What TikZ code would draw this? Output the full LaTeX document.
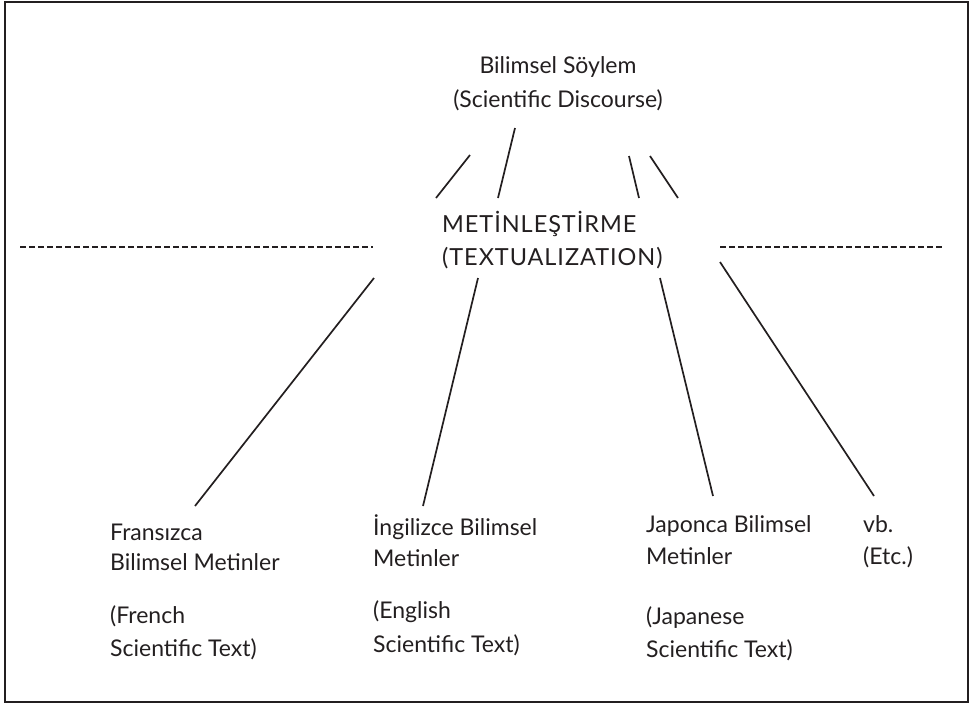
\documentclass[tikz,border=0pt]{standalone}
\usepackage{fontspec}
\setmainfont{Lato}
\definecolor{ink}{HTML}{231F20}
\begin{document}
\begin{tikzpicture}[x=1pt, y=-1pt,
  lbl/.style={anchor=base west, inner sep=0pt, text=ink, font=\fontsize{23}{26}\selectfont},
  clbl/.style={anchor=base, inner sep=0pt, text=ink, font=\fontsize{23}{26}\selectfont},
  caps/.style={lbl, font=\fontsize{23.5}{26}\addfontfeature{LetterSpace=4}},
  link/.style={draw=ink, line width=1.7pt},
  sep/.style={draw=ink, line width=1.3pt, dash pattern=on 6pt off 3pt}]
\useasboundingbox (0,0) rectangle (970,705);
% outer frame
\draw[ink, line width=2.6pt] (5,2) rectangle (968,702);

% discourse at the top
\node[clbl] (disc1) at (558,73) {Bilimsel Söylem};
\node[clbl] (disc2) at (558,107) {(Scientific Discourse)};

% textualization in the middle
\node[caps] (tx1) at (442,232) {METİNLEŞTİRME};
\node[caps] (tx2) at (442,265) {(TEXTUALIZATION)};

% text blocks at the bottom
\node[lbl] (fr1) at (110,540) {Fransızca};
\node[lbl] (fr2) at (110,570) {Bilimsel Metinler};
\node[lbl] (fr3) at (110,623) {(French};
\node[lbl] (fr4) at (110,656) {Scientific Text)};

\node[lbl] (en1) at (373,535) {İngilizce Bilimsel};
\node[lbl] (en2) at (373,566) {Metinler};
\node[lbl] (en3) at (373,618) {(English};
\node[lbl] (en4) at (373,652) {Scientific Text)};

\node[lbl] (jp1) at (646,532) {Japonca Bilimsel};
\node[lbl] (jp2) at (646,564) {Metinler};
\node[lbl] (jp3) at (646,624) {(Japanese};
\node[lbl] (jp4) at (646,657) {Scientific Text)};

\node[lbl] (etc1) at (863,532) {vb.};
\node[lbl] (etc2) at (863,564) {(Etc.)};

% segment end points
\coordinate (u1a) at (470,155); \coordinate (u1b) at (436,198);
\coordinate (u2a) at (515,128); \coordinate (u2b) at (498,198);
\coordinate (u3a) at (629,156); \coordinate (u3b) at (639,198);
\coordinate (u4a) at (650,156); \coordinate (u4b) at (678,198);

\coordinate (l1a) at (374,278); \coordinate (l1b) at (195,506);
\coordinate (l2a) at (478,278); \coordinate (l2b) at (423,506);
\coordinate (l3a) at (660,278); \coordinate (l3b) at (713,496);
\coordinate (l4a) at (720,262); \coordinate (l4b) at (874,496);

\coordinate (dl1) at (20,247); \coordinate (dl2) at (373,247);
\coordinate (dr1) at (720,247); \coordinate (dr2) at (943,247);

% upper segments
\draw[link] (u1a) -- (u1b);
\draw[link] (u2a) -- (u2b);
\draw[link] (u3a) -- (u3b);
\draw[link] (u4a) -- (u4b);
% lower segments
\draw[link] (l1a) -- (l1b);
\draw[link] (l2a) -- (l2b);
\draw[link] (l3a) -- (l3b);
\draw[link] (l4a) -- (l4b);
% dashed separators
\draw[sep] (dl1) -- (dl2);
\draw[sep] (dr1) -- (dr2);
\end{tikzpicture}
\end{document}
